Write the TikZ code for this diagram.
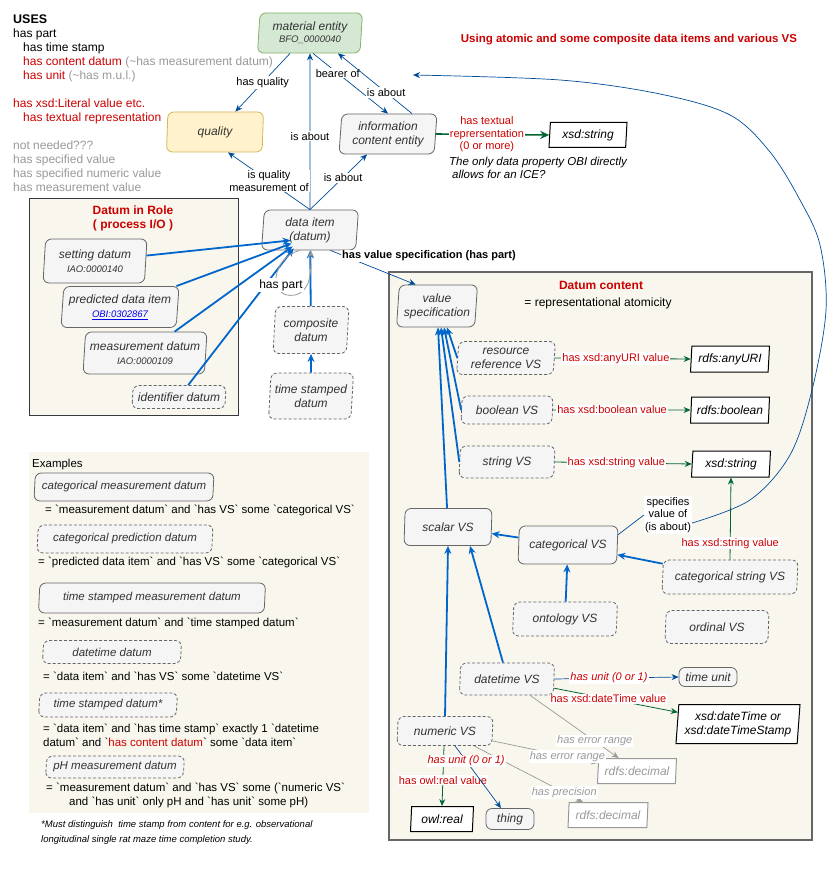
\documentclass[tikz,border=0pt]{standalone}
\usepackage{fontspec}
\setmainfont{Liberation Sans}
\usetikzlibrary{shapes.geometric,arrows.meta,calc}
\definecolor{nfill}{HTML}{F5F5F5}
\definecolor{nstroke}{HTML}{666666}
\definecolor{ntext}{HTML}{333333}
\definecolor{beige}{HTML}{F9F7ED}
\definecolor{boxdark}{HTML}{36393D}
\definecolor{redt}{HTML}{CC0000}
\definecolor{grayt}{HTML}{999999}
\definecolor{bthin}{HTML}{004C99}
\definecolor{bthick}{HTML}{0066CC}
\definecolor{grn}{HTML}{006633}
\definecolor{gfill}{HTML}{D5E8D4}
\definecolor{gstroke}{HTML}{82B366}
\definecolor{yfill}{HTML}{FFF2CC}
\definecolor{ystroke}{HTML}{D6B656}
\definecolor{linkblue}{HTML}{0000EE}
\newcommand\fsz[2]{\fontsize{#1}{#2}\selectfont}
\newcommand\bq{\textasciigrave}
\tikzset{
  shp/.style={trapezium, trapezium left angle=84, trapezium right angle=96, trapezium stretches body,
    rounded corners=6pt, draw=nstroke, fill=nfill, text=ntext, font=\itshape\fsz{12}{14},
    align=center, inner sep=1pt, line width=0.8pt},
  dsh/.style={shp, dash pattern=on 3pt off 2pt},
  litb/.style={trapezium, trapezium left angle=84, trapezium right angle=96, trapezium stretches body,
    draw=black, fill=white, text=black, font=\itshape\fsz{12}{14}, align=center, inner sep=1pt, line width=1pt},
  litg/.style={litb, draw=grayt, text=grayt},
  rbox/.style={rectangle, rounded corners=6pt, draw=nstroke, fill=nfill, text=ntext,
    font=\itshape\fsz{12}{14}, inner sep=1pt, line width=0.8pt},
  exn/.style={font=\itshape\fsz{11.5}{13}},
  ethin/.style={draw=bthin, line width=0.7pt, -{Stealth[length=7pt,width=6pt]}},
  ethick/.style={draw=bthick, line width=1.8pt, -{Stealth[length=8pt,width=7pt]}},
  egreen/.style={draw=grn, line width=0.8pt, -{Stealth[length=7pt,width=6pt]}},
  egreenT/.style={draw=grn, line width=1.6pt, -{Stealth[length=9pt,width=8pt]}},
  egray/.style={draw=grayt, line width=0.7pt, -{Stealth[length=7pt,width=6pt]}},
  lbl/.style={font=\fsz{11}{12.5}, text=black, fill=white, inner sep=1pt, align=center},
  rlbl/.style={lbl, text=redt},
  rilbl/.style={lbl, text=redt, font=\itshape\fsz{11}{12.5}},
  glbl/.style={lbl, text=grayt, font=\itshape\fsz{11}{12.5}},
  txt/.style={anchor=base west, inner sep=0, font=\fsz{12}{14}},
  ex/.style={anchor=base west, inner sep=0, font=\fsz{11.5}{13}},
}
\begin{document}
\begin{tikzpicture}[x=1pt,y=-1pt]
\useasboundingbox (0,0) rectangle (839,882);
\fill[white] (0,0) rectangle (839,882);

% container boxes
\draw[fill=beige, draw=boxdark, line width=0.8pt] (29,198) rectangle (238,415);
\fill[beige] (29,452) rectangle (369,813);
\draw[fill=beige, draw=nstroke, line width=1.2pt] (389,272) rectangle (812,840);

% USES text
\node[txt, font=\bfseries\fsz{12.5}{14}] (u1) at (13,24) {USES};
\node[txt] (u2) at (13,38) {has part};
\node[txt] (u3) at (23,52) {has time stamp};
\node[txt] (u4) at (23,66) {{\color{redt}has content datum} {\color{grayt}(\textasciitilde has measurement datum)}};
\node[txt] (u5) at (23,80) {{\color{redt}has unit} {\color{grayt}(\textasciitilde has m.u.l.)}};
\node[txt, text=redt] (u6) at (13,108) {has xsd:Literal value etc.};
\node[txt, text=redt] (u7) at (23,122) {has textual representation};
\node[txt, text=grayt] (u8) at (13,150) {not needed???};
\node[txt, text=grayt] (u9) at (13,164) {has specified value};
\node[txt, text=grayt] (u10) at (13,178) {has specified numeric value};
\node[txt, text=grayt] (u11) at (13,192) {has measurement value};

% titles and notes
\node[font=\bfseries\fsz{11.5}{13}, text=redt] (title) at (629,40) {Using atomic and some composite data items and various VS};
\node[font=\itshape\fsz{11.5}{13.5}, align=left] (note) at (538,168) {The only data property OBI directly\\\hspace*{3pt}allows for an ICE?};
\node[font=\bfseries\fsz{12}{14}, text=redt, align=center] (drtitle) at (133,218) {Datum in Role\\( process I/O )};
\node[font=\bfseries\fsz{12}{14}, text=redt] (dctitle) at (601,285) {Datum content};
\node[font=\fsz{12}{14}] (dcsub) at (598,303) {= representational atomicity};

% top nodes
\node[shp, fill=gfill, draw=gstroke, minimum width=105pt, minimum height=40pt] (me) at (310,33) {material entity\\[-2pt]{\fsz{9.5}{11}BFO\_0000040}};
\node[shp, fill=yfill, draw=ystroke, minimum width=97pt, minimum height=40pt] (qual) at (215,132) {quality};
\node[shp, minimum width=98pt, minimum height=40pt] (ice) at (388,134) {information\\content entity};
\node[shp, minimum width=97pt, minimum height=40pt] (di) at (310,230) {data item\\(datum)};
\node[litb, minimum width=78pt, minimum height=25pt] (xs1) at (588,135) {xsd:string};

% datum in role
\node[shp, minimum width=104pt, minimum height=44pt] (set) at (95,261) {setting datum\\{\fsz{9.5}{11}IAO:0000140}};
\node[shp, minimum width=118pt, minimum height=41pt] (pred) at (120,307) {predicted data item\\{\fsz{9.5}{11}\color{linkblue}\underline{OBI:0302867}}};
\node[shp, minimum width=124pt, minimum height=42pt] (meas) at (145,353) {measurement datum\\{\fsz{9.5}{11}IAO:0000109}};
\node[dsh, minimum width=94pt, minimum height=23pt] (ident) at (179,397) {identifier datum};
\node[dsh, minimum width=76pt, minimum height=47pt] (comp) at (311,330) {composite\\datum};
\node[dsh, minimum width=85pt, minimum height=46pt] (tsd) at (311,396) {time stamped\\datum};

% datum content
\node[shp, minimum width=81pt, minimum height=42pt] (vs) at (437,306) {value\\specification};
\node[dsh, minimum width=99pt, minimum height=33pt] (rr) at (506,358) {resource\\reference VS};
\node[dsh, minimum width=92pt, minimum height=28pt] (bool) at (507,410) {boolean VS};
\node[dsh, minimum width=96pt, minimum height=32pt] (strvs) at (507,462) {string VS};
\node[litb, minimum width=79pt, minimum height=26pt] (any) at (730,359) {rdfs:anyURI};
\node[litb, minimum width=79pt, minimum height=26pt] (rbool) at (730,410) {rdfs:boolean};
\node[litb, minimum width=79pt, minimum height=26pt] (xs2) at (731,464) {xsd:string};
\node[shp, minimum width=88pt, minimum height=37pt] (scal) at (448,527) {scalar VS};
\node[shp, minimum width=100pt, minimum height=38pt] (cat) at (568,545) {categorical VS};
\node[dsh, minimum width=136pt, minimum height=34pt] (cstr) at (730,577) {categorical string VS};
\node[dsh, minimum width=105pt, minimum height=34pt] (onto) at (565,619) {ontology VS};
\node[dsh, minimum width=104pt, minimum height=33pt] (ord) at (717,627) {ordinal VS};
\node[dsh, minimum width=95pt, minimum height=32pt] (dt) at (507,679) {datetime VS};
\node[rbox, minimum width=58pt, minimum height=19pt] (tu) at (708,677) {time unit};
\node[litb, minimum width=124pt, minimum height=39pt] (xdt) at (738,724) {xsd:dateTime or\\xsd:dateTimeStamp};
\node[dsh, minimum width=96pt, minimum height=29pt] (num) at (445,731) {numeric VS};
\node[litg, minimum width=79pt, minimum height=25pt] (dec1) at (637,771) {rdfs:decimal};
\node[litg, minimum width=80pt, minimum height=25pt] (dec2) at (608,815) {rdfs:decimal};
\node[litb, minimum width=63pt, minimum height=25pt] (real) at (442,819) {owl:real};
\node[rbox, minimum width=48pt, minimum height=21pt] (thing) at (510,819) {thing};

% examples
\node[ex] (exh) at (32,467) {Examples};
\node[shp, exn, minimum width=180pt, minimum height=28pt] (e1) at (124,487) {categorical measurement datum};
\node[ex] (x1) at (45,513) {= \bq measurement datum\bq{} and \bq has VS\bq{} some \bq categorical VS\bq};
\node[dsh, exn, minimum width=176pt, minimum height=28pt] (e2) at (125,539) {categorical prediction datum};
\node[ex] (x2) at (38,565) {= \bq predicted data item\bq{} and \bq has VS\bq{} some \bq categorical VS\bq};
\node[shp, exn, minimum width=227pt, minimum height=30pt] (e3) at (152,598) {time stamped measurement datum};
\node[ex] (x3) at (38,626) {= \bq measurement datum\bq{} and \bq time stamped datum\bq};
\node[dsh, exn, minimum width=139pt, minimum height=23pt] (e4) at (112,652) {datetime datum};
\node[ex] (x4) at (43,680) {= \bq data item\bq{} and \bq has VS\bq{} some \bq datetime VS\bq};
\node[dsh, exn, minimum width=139pt, minimum height=24pt] (e5) at (108,705) {time stamped datum*};
\node[ex] (x5a) at (43,732) {= \bq data item\bq{} and \bq has time stamp\bq{} exactly 1 \bq datetime};
\node[ex] (x5b) at (43,746) {datum\bq{} and \bq{\color{redt}has content datum}\bq{} some \bq data item\bq};
\node[dsh, exn, minimum width=139pt, minimum height=22pt] (e6) at (115,767) {pH measurement datum};
\node[ex] (x6a) at (46,791) {= \bq measurement datum\bq{} and \bq has VS\bq{} some (\bq numeric VS\bq};
\node[ex] (x6b) at (69,805) {and \bq has unit\bq{} only pH and \bq has unit\bq{} some pH)};
\node[ex, font=\itshape\fsz{9.5}{11}] (fn1) at (41,827) {*Must distinguish\ \ time stamp from content for e.g. observational};
\node[ex, font=\itshape\fsz{9.5}{11}] (fn2) at (41,842) {longitudinal single rat maze time completion study.};

% ---- top edges
\draw[ethin] ([xshift=-20pt]me.south) -- (qual.north east) node[lbl, pos=0.5] {has quality};
\draw[ethin] (di.north) -- (me.south) node[lbl, pos=0.47] {is about};
\draw[ethin] ([xshift=3pt]me.south) -- (ice.north) node[lbl, pos=0.33] {bearer of};
\draw[ethin] ([xshift=24pt]ice.north) -- ([xshift=28pt]me.south) node[lbl, pos=0.35] {is about};
\draw[ethin] (di.north) -- ([xshift=13pt]qual.south) node[lbl, pos=0.5] {is quality\\measurement of};
\draw[ethin] (di.north) -- ([xshift=-21pt]ice.south) node[lbl, pos=0.58] {is about};
\draw[egreenT] (ice.east) -- (xs1.west) node[rlbl, pos=0.45] {has textual\\reprersentation\\(0 or more)};

% datum in role edges
\draw[ethick] (set) -- ([shift={(1pt,10pt)}]di.south west);
\draw[ethick] (pred) -- ([shift={(2pt,7pt)}]di.south west);
\draw[ethick] (meas) -- ([shift={(3pt,4pt)}]di.south west);
\draw[ethick] (ident) -- ([shift={(4pt,2pt)}]di.south west);
\draw[ethick] (comp) -- (di);
\draw[ethick] (tsd) -- (comp);
\draw[draw=grayt, line width=0.8pt, -{Stealth[length=7pt,width=6pt]}] ([xshift=-10pt]di.south) .. controls (270,258) and (268,300) .. (295,295) .. controls (311,291) and (311,272) .. ([xshift=1pt]di.south);
\node[lbl, font=\fsz{12}{14}] (hp) at (281,285) {has part};
\draw[ethin] (di.south east) -- (vs.north west);
\node[font=\bfseries\fsz{11}{13}, fill=white, inner sep=1pt] (hvs) at (429,256) {has value specification (has part)};

% datum content edges
\draw[ethick] (scal) -- ([xshift=1pt]vs.south);
\draw[ethick] (strvs.west) -- ([xshift=4pt]vs.south);
\draw[ethick] (bool.west) -- ([xshift=7pt]vs.south);
\draw[ethick] (rr.west) -- ([xshift=10pt]vs.south);
\draw[egreen] (rr.east) -- (any.west) node[rlbl, pos=0.45] {has xsd:anyURI value};
\draw[egreen] (bool.east) -- (rbool.west) node[rlbl, pos=0.43] {has xsd:boolean value};
\draw[egreen] (strvs.east) -- (xs2.west) node[rlbl, pos=0.45] {has xsd:string value};
\draw[ethick] (cat) -- (scal);
\draw[ethick] (cstr) -- (cat);
\draw[ethick] (onto) -- (cat);
\draw[ethick] ([xshift=-4pt]dt.north) -- ([xshift=22pt]scal.south);
\draw[ethick] (num.north) -- (scal.south);
\draw[egreen] (cstr.north) -- (xs2.south) node[rlbl, pos=0.2] {has xsd:string value};
\node[lbl] (specl) at (668,515) {specifies\\value of\\(is about)};
\draw[draw=bthin, line width=0.7pt] ([yshift=10pt]cat.east) -- (specl.west);
\coordinate (cend) at (413,75);
\draw[ethin] plot[smooth, tension=0.55] coordinates {([yshift=-8pt]specl.east) (750,500) (790,455) (812,390) (826,310) (820,245) (800,200) (770,152) (730,115) (660,94) (560,80) (cend)};
\draw[ethin] (dt.east) -- (tu.west) node[rilbl, pos=0.44] {has unit (0 or 1)};
\draw[egreen] (dt) -- (xdt) node[rlbl, pos=0.44] {has xsd:dateTime value};
\draw[egray] (dt) -- (dec1) node[glbl, pos=0.73] {has error range};
\draw[egray] (num) -- (dec1) node[glbl, pos=0.71] {has error range};
\draw[egray] (num) -- (dec2) node[glbl, pos=0.83] {has precision};
\draw[egreen] ([xshift=-1pt]num.south) -- (real.north) node[rlbl, pos=0.57] {has owl:real value};
\draw[ethin] ([xshift=10pt]num.south) -- ([xshift=-9pt]thing.north) node[rilbl, pos=0.24] {has unit (0 or 1)};
\end{tikzpicture}
\end{document}
